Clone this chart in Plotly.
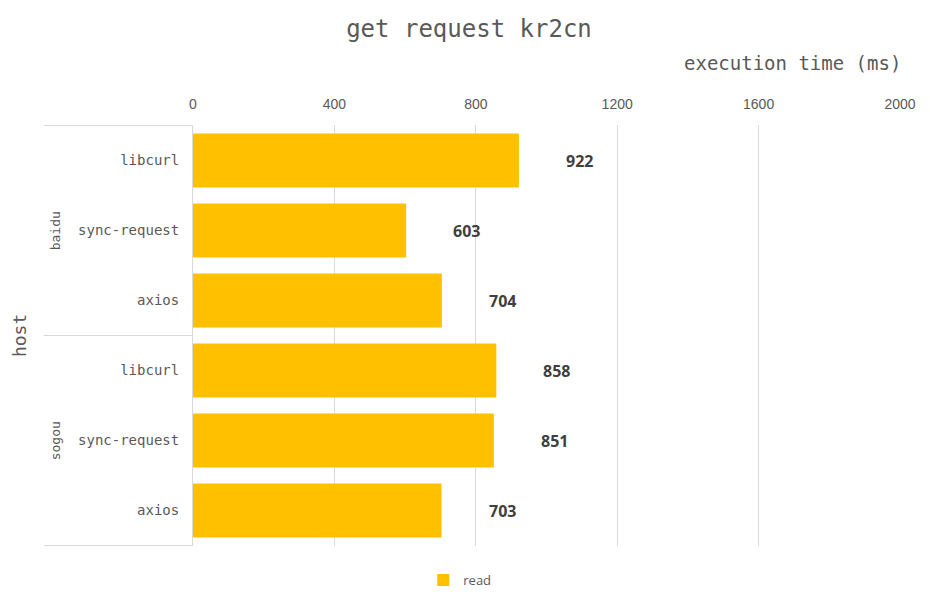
import plotly.graph_objects as go

hosts = ["baidu", "baidu", "baidu", "sogou", "sogou", "sogou"]
clients = ["libcurl", "sync-request", "axios", "libcurl", "sync-request", "axios"]
read_ms = [922, 603, 704, 858, 851, 703]
x_ticks = [0, 400, 800, 1200, 1600, 2000]

cats = [f"{h}|{c}" for h, c in zip(hosts, clients)]

MONO = "DejaVu Sans Mono"
GREY = "#595959"

fig = go.Figure()
fig.add_trace(go.Bar(
    y=cats, x=read_ms, orientation="h", name="read",
    marker=dict(color="#FFC000", line=dict(width=0)),
    showlegend=True,
))

annotations = []
# data labels
for c, v in zip(cats, read_ms):
    annotations.append(dict(
        x=v, y=c, xref="x", yref="y", text=f"<b>{v}</b>", showarrow=False,
        xanchor="left", xshift=45,
        font=dict(family="Open Sans", size=16, color="#404040"),
    ))
# group labels
shapes = []
group_names = []
for h in hosts:
    if h not in group_names:
        group_names.append(h)
for g in group_names:
    idx = [i for i, h in enumerate(hosts) if h == g]
    mid = cats[idx[len(idx) // 2]]
    annotations.append(dict(
        x=-0.194, y=mid, xref="paper", yref="y", text=g, showarrow=False,
        textangle=-90, xanchor="center", yanchor="middle",
        font=dict(family=MONO, size=13, color=GREY),
    ))
    for b in (idx[0] - 0.5, idx[-1] + 0.5):
        shapes.append(dict(type="line", xref="paper", yref="y",
                           x0=-0.211, x1=0, y0=b, y1=b,
                           line=dict(color="#d9d9d9", width=1)))

annotations.append(dict(
    x=-0.263, y=0.5, xref="paper", yref="paper", text="host", showarrow=False,
    textangle=-90, font=dict(family=MONO, size=18, color=GREY),
))
annotations.append(dict(
    x=1.004, y=1.147, xref="paper", yref="paper", text="execution time (ms)",
    showarrow=False, xanchor="right", yanchor="middle",
    font=dict(family=MONO, size=19, color=GREY),
))

fig.update_layout(
    width=922, height=595,
    paper_bgcolor="white", plot_bgcolor="white",
    margin=dict(l=185, r=30, t=117, b=57),
    title=dict(text="get request kr2cn", x=0.5, xanchor="center",
               xref="container", y=0.966, yanchor="middle",
               font=dict(family=MONO, size=24, color=GREY)),
    bargap=0.23,
    xaxis=dict(
        side="top", range=[0, 2000], tickvals=x_ticks,
        ticktext=[str(t) for t in x_ticks],
        showgrid=True, gridcolor="#d9d9d9", gridwidth=1,
        zeroline=False, showline=False, ticks="",
        ticklabelstandoff=12,
        tickfont=dict(family="Liberation Sans Narrow, Arial Narrow, sans-serif",
                      size=14, color=GREY),
    ),
    yaxis=dict(
        type="category", autorange="reversed",
        tickvals=cats, ticktext=clients,
        showline=True, linecolor="#d9d9d9", linewidth=1,
        showgrid=False, ticks="", ticklabelstandoff=10,
        tickfont=dict(family=MONO, size=14, color=GREY),
    ),
    legend=dict(orientation="h", xref="container", yref="container",
                x=0.49, xanchor="center", y=0.0387, yanchor="middle",
                itemwidth=30,
                font=dict(family="Open Sans", size=13, color=GREY)),
    annotations=annotations,
    shapes=shapes,
)

fig.write_html("out.html")
